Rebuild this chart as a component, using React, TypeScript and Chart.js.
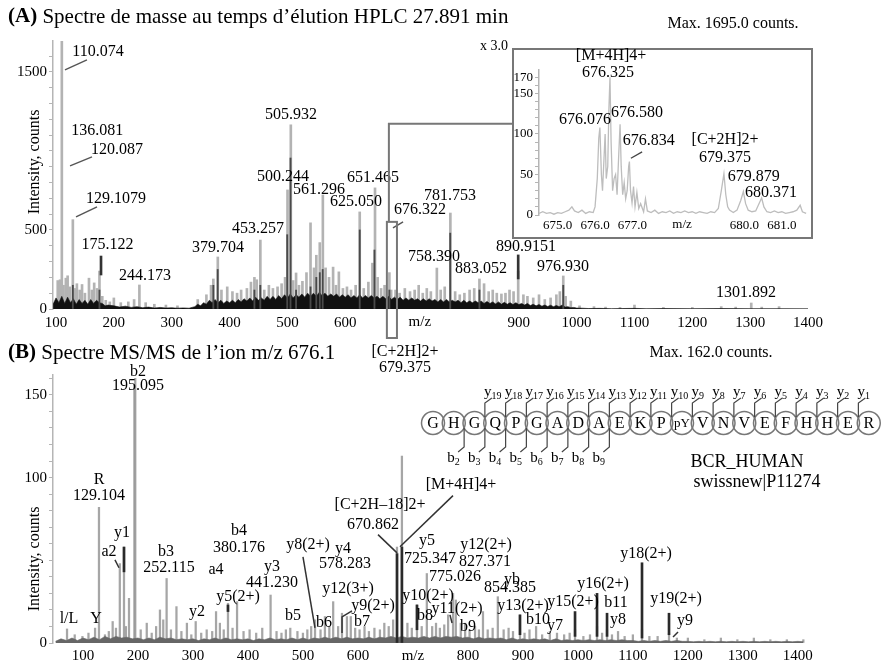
import React, { useEffect, useRef } from 'react';
import { Chart, registerables } from 'chart.js';
Chart.register(...registerables);

const FONT = "'Liberation Serif', 'Times New Roman', Times, serif";

// ---------- Panel A : MS spectrum ----------
const A_XTICKS = [100, 200, 300, 400, 500, 600, 700, 800, 900, 1000, 1100, 1200, 1300, 1400];
const A_XHIDE = [700, 800];
const A_YLABELS = [0, 500, 1500];

// light grey peaks [m/z, counts]
const A_PEAKS: number[][] = [
  [103, 180], [107, 185], [110.07, 1695], [113, 150], [117, 195], [120.09, 210], [124, 140], [129.11, 565], [133, 130],
  [136.08, 160], [141, 120], [145, 155], [150, 100], [157, 195], [162, 120], [166, 165], [171, 130], [175.12, 240],
  [180, 80], [186, 55], [193, 45], [200, 70], [212, 40], [225, 45], [235, 60], [244.17, 152], [255, 40], [270, 30],
  [290, 25], [310, 20], [345, 60], [360, 90], [368, 150], [372, 190], [379.7, 329], [386, 120], [396, 140], [405, 110],
  [413, 100], [420, 120], [430, 130], [437, 170], [443, 200], [447, 185], [453.26, 436], [460, 120], [468, 150],
  [475, 130], [483, 140], [490, 160], [496, 200], [500.24, 753], [505.93, 1165], [510, 180], [515, 228], [520, 150],
  [526, 175], [533, 230], [540, 545], [546, 260], [550, 340], [556, 420], [561.3, 721], [566, 260], [572, 200],
  [579, 265], [584, 150], [589, 235], [596, 130], [603, 140], [610, 120], [618, 150], [625.05, 614], [632, 130],
  [640, 170], [647, 290], [651.47, 766], [656, 200], [662, 130], [668, 150], [676.32, 230], [679.38, 120], [687, 120],
  [694, 100], [703, 130], [712, 110], [720, 120], [727, 150], [734, 100], [741, 130], [748, 110], [758.39, 259],
  [765, 120], [772, 140], [781.75, 607], [790, 110], [798, 90], [806, 100], [815, 120], [823, 130], [832, 190],
  [840, 160], [848, 110], [855, 120], [862, 100], [870, 95], [877, 100], [884, 120], [891, 110], [899, 240], [908, 90],
  [915, 80], [925, 70], [935, 90], [945, 60], [955, 70], [965, 90], [971, 110], [976.93, 209], [981, 80], [990, 50],
  [1005, 20], [1030, 15], [1050, 12], [1075, 10], [1100, 25], [1150, 10], [1200, 10], [1250, 15], [1275, 12],
  [1301.89, 38], [1320, 12], [1350, 15],
];
// darker (overlapping) peaks
const A_DARK: number[][] = [
  [129.1, 150], [175.1, 120], [372, 150], [379.5, 250], [443, 120], [453.2, 150], [499.7, 470], [505.4, 955],
  [515, 120], [540, 140], [550, 200], [556, 230], [561, 250], [625.05, 500], [650.5, 373], [676.3, 120],
  [781.5, 480], [832, 120], [976.9, 150],
];
// dense black baseline noise
const A_NOISE: number[][] = [
  [95, 30], [100, 70], [105, 40], [110, 80], [115, 35], [120, 75], [125, 40], [130, 65], [135, 30], [140, 60], [145, 35],
  [150, 55], [155, 30], [160, 60], [165, 35], [170, 55], [175, 40], [180, 35], [185, 20], [190, 25], [200, 20], [210, 12],
  [220, 18], [230, 10], [240, 15], [250, 8], [260, 12], [270, 6], [280, 10], [290, 6], [300, 8], [310, 5], [320, 7],
  [330, 5], [340, 15], [345, 30], [350, 20], [355, 40], [360, 30], [365, 55], [370, 40], [375, 60], [380, 40], [385, 55],
  [390, 35], [395, 50], [400, 40], [405, 55], [410, 40], [415, 60], [420, 45], [425, 65], [430, 50], [435, 70], [440, 50],
  [445, 75], [450, 55], [455, 70], [460, 55], [465, 80], [470, 60], [475, 80], [480, 60], [485, 85], [490, 65], [495, 90],
  [500, 70], [505, 95], [510, 70], [515, 90], [520, 75], [525, 95], [530, 75], [535, 100], [540, 80], [545, 100],
  [550, 80], [555, 105], [560, 85], [565, 100], [570, 80], [575, 95], [580, 80], [585, 95], [590, 75], [595, 90],
  [600, 75], [605, 90], [610, 70], [615, 85], [620, 70], [625, 90], [630, 70], [635, 85], [640, 70], [645, 85], [650, 70],
  [655, 80], [660, 65], [665, 80], [670, 65], [675, 80], [680, 60], [685, 75], [690, 60], [695, 75], [700, 55], [705, 70],
  [710, 55], [715, 70], [720, 55], [725, 65], [730, 50], [735, 65], [740, 50], [745, 65], [750, 50], [755, 60], [760, 45],
  [765, 60], [770, 45], [775, 60], [780, 45], [785, 55], [790, 45], [795, 55], [800, 40], [805, 55], [810, 40], [815, 50],
  [820, 40], [825, 50], [830, 40], [835, 50], [840, 35], [845, 48], [850, 35], [855, 45], [860, 32], [865, 45], [870, 30],
  [875, 42], [880, 30], [885, 40], [890, 28], [895, 40], [900, 28], [905, 35], [910, 25], [915, 35], [920, 22], [925, 30],
  [930, 20], [935, 28], [940, 18], [945, 25], [950, 16], [955, 24], [960, 15], [965, 22], [970, 15], [975, 25], [980, 12],
  [985, 15], [990, 8], [995, 10], [1000, 6], [1010, 5], [1020, 3], [1040, 4], [1060, 2], [1080, 3], [1100, 4], [1120, 2],
  [1150, 3], [1200, 2], [1250, 3], [1300, 2], [1350, 2], [1400, 1],
];
// black marker segments [m/z, from, to]
const A_MARKED: number[][] = [[177.8, 215, 335], [899, 190, 342]];
// peak labels [text, m/z, counts]
const A_LABELS: [string, number, number][] = [
  ['110.074', 172.6, 1627], ['136.081', 171.1, 1127], ['120.087', 205.4, 1006], ['129.1079', 203.7, 696],
  ['175.122', 189.2, 405], ['244.173', 253.8, 209], ['379.704', 380, 386], ['453.257', 449.2, 506],
  ['500.244', 492.4, 835], ['505.932', 506.2, 1228], ['561.296', 554.6, 753], ['651.465', 648, 829],
  ['625.050', 618.6, 677], ['676.322', 729.2, 627], ['781.753', 781.1, 715], ['758.390', 753.4, 329],
  ['883.052', 834.6, 253], ['890.9151', 912.4, 392], ['976.930', 976.4, 266], ['1301.892', 1292.7, 101],
  ['[C+2H]2+', 703.3, -272], ['679.375', 703.3, -373],
];
const A_LEADERS: number[][][] = [
  [[115.5, 1513], [153.5, 1576]],
  [[124.2, 905], [162.2, 962]],
  [[134.6, 582], [170.9, 646]],
  [[682.5, 513], [700, 551]],
];
const A_ZOOM_RANGE = [672, 689.4];
const A_ZOOM_TOP = 551;
const A_CONNECT = 1171;

// ---------- Inset ----------
const I_XTICKS = [675, 676, 677, 680, 681];
const I_YLABELS = [0, 50, 100, 150, 170];
const I_PROFILE: number[][] = [
  [674.5, 2], [674.6, 4], [674.7, 2], [674.8, 3], [674.9, 1], [675.0, 3], [675.1, 2], [675.2, 4], [675.3, 6], [675.38, 10],
  [675.45, 5], [675.55, 3], [675.65, 6], [675.75, 2], [675.85, 4], [675.95, 3], [676.0, 10], [676.06, 45], [676.1, 95],
  [676.13, 108], [676.17, 50], [676.2, 30], [676.24, 70], [676.27, 100], [676.3, 45], [676.34, 60], [676.37, 130],
  [676.4, 170], [676.43, 90], [676.47, 30], [676.51, 45], [676.55, 50], [676.59, 25], [676.63, 70], [676.67, 112],
  [676.7, 60], [676.74, 25], [676.78, 40], [676.82, 20], [676.86, 30], [676.9, 60], [676.92, 66], [676.95, 30],
  [676.99, 15], [677.03, 35], [677.07, 10], [677.12, 28], [677.17, 8], [677.22, 14], [677.3, 4], [677.35, 20], [677.4, 5],
  [677.5, 3], [677.6, 6], [677.7, 2], [677.8, 4], [677.9, 3], [678.0, 5], [678.1, 2], [678.2, 4], [678.3, 3], [678.4, 5],
  [678.5, 3], [678.6, 4], [678.7, 2], [678.8, 4], [678.9, 3], [679.0, 2], [679.1, 4], [679.2, 3], [679.3, 8], [679.38, 30],
  [679.45, 51], [679.5, 25], [679.55, 10], [679.6, 6], [679.7, 3], [679.8, 6], [679.9, 18], [679.97, 29], [680.03, 14],
  [680.1, 6], [680.2, 4], [680.3, 5], [680.4, 15], [680.46, 21], [680.52, 10], [680.6, 4], [680.7, 3], [680.8, 5],
  [680.9, 3], [681.0, 4], [681.1, 2], [681.2, 3], [681.3, 4], [681.4, 6], [681.49, 12], [681.55, 4], [681.65, 2],
];
const I_LABELS: [string, number, number][] = [
  ['[M+4H]4+', 676.43, 197], ['676.325', 676.35, 176], ['676.076', 675.73, 117], ['676.580', 677.12, 126],
  ['676.834', 677.44, 91], ['[C+2H]2+', 679.48, 93], ['679.375', 679.48, 70], ['679.879', 680.25, 47],
  ['680.371', 680.71, 27],
];
const I_LEADERS: number[][][] = [[[676.96, 70], [677.26, 78]]];

// ---------- Panel B : MS/MS spectrum ----------
const B_XTICKS = [100, 200, 300, 400, 500, 600, 700, 800, 900, 1000, 1100, 1200, 1300, 1400];
const B_YLABELS = [0, 100, 150];
const B_PEAKS: number[][] = [
  [71, 8.5], [85, 5], [99, 4], [110, 6], [122, 9], [129.1, 82], [140, 5], [147, 7], [154, 13], [160, 9], [167, 48],
  [174.6, 58], [178, 10], [183.7, 27], [193.5, 156], [195.1, 160], [205, 8], [216, 12], [225, 6], [233, 10], [240, 20],
  [246, 14], [252.1, 39], [260, 8], [270, 22], [279, 7], [289, 12], [297, 5], [305, 13], [315, 6], [325, 8], [335, 7],
  [342, 19], [349, 12], [356, 8], [363.7, 24], [372, 9], [380.2, 25], [392, 7], [403, 8], [415, 6], [426, 9],
  [441.2, 29], [452, 7], [461, 6], [469, 8], [477, 9], [490, 7], [500, 6], [508, 8], [515, 10], [522, 14], [532, 8],
  [540, 16], [548, 10], [555, 25], [564, 10], [571, 18], [580, 16], [587, 16], [595, 9], [603, 8], [612, 10], [620, 7],
  [630, 9], [640, 8], [648, 12], [656, 10], [664, 14], [671, 58], [680, 113], [690, 12], [698, 9], [707.4, 23],
  [716, 10], [725.3, 42], [735, 10], [742, 12], [749, 9], [757, 11], [764, 17], [773, 30], [778, 26], [787, 12],
  [795, 12], [803, 8], [813, 10], [820, 8], [827.4, 19], [836, 8], [845, 9], [854.4, 28], [865, 8], [874, 9], [882, 7],
  [894.7, 17], [903, 6], [912, 8], [924, 10], [935, 5], [949, 7], [962, 6], [975, 5], [985, 6], [994.8, 8], [1010, 4],
  [1022, 5], [1034.8, 10], [1044, 6], [1053, 8], [1062, 5], [1073, 7], [1085, 4], [1100, 5], [1116.6, 8], [1130, 4],
  [1145, 4], [1165.7, 6], [1180, 3], [1200, 3], [1230, 2], [1260, 3], [1290, 2], [1320, 3], [1350, 2], [1380, 2], [1410, 2],
];
const B_NOISE_START = 50;
const B_NOISE_STEP = 10;
const B_NOISE: number[] = [
  1, 2.5, 1.5, 3, 1.5, 3, 2, 3.5, 2, 4, 2.5, 4, 3, 3.5, 2.5, 3, 2, 3, 2, 3.5, 2.5, 3, 2, 2.5, 2, 2.5, 1.5, 2.5, 2, 3,
  2, 3, 2, 2.5, 2, 2.5, 1.5, 2.5, 2, 3, 2, 2.5, 2, 3, 2, 3, 2, 3, 2.5, 3.5, 2.5, 3.5, 2.5, 3.5, 2.5, 3, 2.5, 3.5, 2.5,
  3.5, 3, 4, 3, 4, 3, 3.5, 3, 4, 3, 4, 3, 4, 3.5, 4, 3, 3.5, 2.5, 3.5, 2.5, 3, 2.5, 3, 2, 3, 2, 2.5, 2, 2.5, 2, 2.5, 1.5,
  2.5, 1.5, 2, 1.5, 2, 1.5, 2, 1.5, 2, 1.5, 2, 1.5, 2, 1.5, 1.5, 1, 1.5, 1, 1.5, 1, 1.5, 1, 1.5, 1, 1, 0.8, 1, 0.8, 1,
  0.8, 1, 0.8, 1, 0.8, 1, 0.8, 1, 0.8, 1, 0.8, 1, 0.8, 1, 0.8, 1, 0.8,
];
const B_MARKED: number[][] = [
  [174.6, 43, 58], [363.7, 19, 23], [671.1, 0, 54], [680, 0, 58], [707.4, 8, 23], [894.7, 5, 17], [994.8, 4, 19],
  [1034.8, 4, 30], [1053, 4, 18], [1116.6, 3, 48.5], [1165.7, 5, 18],
];
const B_LABELS: [string, number, number][] = [
  ['b2', 200.1, 164.2], ['195.095', 200.1, 155.2], ['R', 129.1, 98.8], ['129.104', 129.1, 89.1], ['y1', 171, 66.7],
  ['a2', 147.3, 55.2], ['b3', 251, 55.2], ['252.115', 256.4, 45.5], ['b4', 383.7, 67.9], ['380.176', 383.7, 57.6],
  ['a4', 341.9, 44.2], ['y3', 443.8, 46.1], ['441.230', 443.8, 36.4], ['y5(2+)', 381.9, 27.9], ['y2', 307.4, 18.8],
  ['l/L', 74.6, 14.5], ['Y', 123.7, 14.5], ['b5', 481.9, 16.4], ['y8(2+)', 509.2, 59.4], ['y4', 572.9, 57],
  ['578.283', 576.5, 47.9], ['y12(3+)', 582, 32.7], ['y9(2+)', 627.4, 22.4], ['b6', 538.3, 12.1], ['b7', 607.4, 12.7],
  ['[C+2H\u201318]2+', 640.2, 83.6], ['670.862', 627.4, 71.5], ['y10(2+)', 727.4, 28.5], ['y5', 725.6, 61.8],
  ['725.347', 731.1, 50.9], ['[M+4H]4+', 787.5, 95.8], ['y12(2+)', 832.9, 59.4], ['827.371', 831.1, 49.1],
  ['775.026', 776.5, 40], ['yb', 880.2, 38.2], ['854.385', 876.6, 33.3], ['y11(2+)', 780.2, 20.6], ['b8', 722, 16.4],
  ['b9', 800.2, 9.7], ['y13(2+)', 900.2, 22.4], ['b10', 927.5, 13.9], ['y7', 958.4, 10.3], ['y15(2+)', 991.1, 24.8],
  ['y16(2+)', 1045.7, 35.8], ['b11', 1069.3, 24.2], ['y8', 1072.9, 13.9], ['y18(2+)', 1123.9, 53.9],
  ['y19(2+)', 1178.4, 26.7], ['y9', 1194.8, 13.3],
];
const B_LEADERS: number[][][] = [
  [[158.2, 50.3], [165.5, 45.5]],
  [[500.1, 52.1], [521.9, 9.1]],
  [[571.1, 6.1], [571.1, 15.8], [589.2, 19.4]],
  [[636.5, 65.5], [671.1, 54.5]],
  [[676.5, 58.2], [772.9, 89.1]],
  [[767.4, 17], [771.1, 12.1]],
  [[1173, 3.6], [1182.1, 6.7]],
];
const SEQUENCE = ['G', 'H', 'G', 'Q', 'P', 'G', 'A', 'D', 'A', 'E', 'K', 'P', 'pY', 'V', 'N', 'V', 'E', 'F', 'H', 'H', 'E', 'R'];
const Y_IONS = [19, 18, 17, 16, 15, 14, 13, 12, 11, 10, 9, 8, 7, 6, 5, 4, 3, 2, 1];
const B_IONS = [2, 3, 4, 5, 6, 7, 8, 9];

// ---------- helpers ----------
function text(ctx: CanvasRenderingContext2D, s: string, x: number, y: number, size: number, align: CanvasTextAlign = 'center', weight = '') {
  ctx.font = `${weight}${size}px ${FONT}`;
  ctx.textAlign = align;
  ctx.textBaseline = 'middle';
  ctx.fillStyle = '#000';
  ctx.fillText(s, x, y);
}
function vtext(ctx: CanvasRenderingContext2D, s: string, x: number, y: number, size: number) {
  ctx.save();
  ctx.translate(x, y);
  ctx.rotate(-Math.PI / 2);
  text(ctx, s, 0, 0, size);
  ctx.restore();
}
function drawLabels(ctx: CanvasRenderingContext2D, chart: any, labels: [string, number, number][], size: number) {
  const { x, y } = chart.scales;
  labels.forEach(([s, mz, v]) => text(ctx, s, x.getPixelForValue(mz), y.getPixelForValue(v), size));
}
function drawLeaders(ctx: CanvasRenderingContext2D, chart: any, leaders: number[][][], color: string, width: number) {
  const { x, y } = chart.scales;
  ctx.strokeStyle = color;
  ctx.lineWidth = width;
  leaders.forEach((pts) => {
    ctx.beginPath();
    pts.forEach(([mz, v], i) => {
      const px = x.getPixelForValue(mz);
      const py = y.getPixelForValue(v);
      if (i === 0) ctx.moveTo(px, py);
      else ctx.lineTo(px, py);
    });
    ctx.stroke();
  });
}
const sticks = (pairs: number[][], color: string, thick: number) => ({
  type: 'bar', data: pairs.map(([x, y]) => ({ x, y })), backgroundColor: color, borderWidth: 0, barThickness: thick, grouped: false,
});
const floats = (triples: number[][], color: string, thick: number) => ({
  type: 'bar', data: triples.map(([x, a, b]) => ({ x, y: [a, b] })), backgroundColor: color, borderWidth: 0, barThickness: thick, grouped: false,
});
const area = (pairs: number[][], color: string) => ({
  type: 'line', data: pairs.map(([x, y]) => ({ x, y })), borderColor: color, backgroundColor: color, borderWidth: 0.6,
  pointRadius: 0, fill: 'origin', tension: 0,
});
const tickFont = (size: number) => ({ family: FONT, size });
const yAxis = (max: number, step: number, labels: number[], width: number, fontSize: number) => ({
  type: 'linear', min: 0, max,
  afterBuildTicks: (s: any) => {
    const t = [];
    for (let v = 0; v <= max; v += step) t.push({ value: v });
    s.ticks = t;
  },
  afterFit: (s: any) => { s.width = width; },
  grid: { drawOnChartArea: false, drawTicks: true, tickLength: 4, color: '#b5b5b5', lineWidth: 1 },
  border: { display: true, color: '#b5b5b5', width: 1.5 },
  ticks: { padding: 2, autoSkip: false, color: '#000', font: tickFont(fontSize), callback: (v: number) => (labels.includes(v) ? String(v) : '') },
});

// ---------- configs ----------
function configA(): any {
  const plugin = {
    id: 'panelA',
    afterDraw(chart: any) {
      const { ctx, chartArea } = chart;
      const { x, y } = chart.scales;
      ctx.save();
      text(ctx, '(A)', 8, 17, 21, 'left', 'bold ');
      const w = ctx.measureText('(A)').width;
      text(ctx, ' Spectre de masse au temps d\u2019\u00e9lution HPLC 27.891 min', 8 + w, 17, 21, 'left');
      text(ctx, 'Max. 1695.0 counts.', 733, 24, 16);
      vtext(ctx, 'Intensity, counts', 35, 162, 16);
      text(ctx, 'm/z', x.getPixelForValue(729), chartArea.bottom + 13, 15);
      drawLabels(ctx, chart, A_LABELS, 16);
      drawLeaders(ctx, chart, A_LEADERS, '#555', 1.4);
      // zoom box and connector to the inset
      const bx0 = x.getPixelForValue(A_ZOOM_RANGE[0]);
      const bx1 = x.getPixelForValue(A_ZOOM_RANGE[1]);
      const by = y.getPixelForValue(A_ZOOM_TOP);
      ctx.strokeStyle = '#777';
      ctx.lineWidth = 2;
      ctx.strokeRect(bx0, by, bx1 - bx0, chartArea.bottom + 29 - by);
      const cy = y.getPixelForValue(A_CONNECT);
      ctx.beginPath();
      ctx.moveTo(bx0 + 2, by);
      ctx.lineTo(bx0 + 2, cy);
      ctx.lineTo(513, cy);
      ctx.stroke();
      ctx.restore();
    },
  };
  return {
    type: 'bar',
    data: {
      datasets: [
        floats(A_MARKED, '#333', 2),
        sticks(A_DARK, '#4a4a4a', 1.2),
        area(A_NOISE, '#111'),
        sticks(A_PEAKS, '#b3b3b3', 2),
      ],
    },
    options: {
      responsive: false, animation: false, events: [],
      layout: { padding: { left: 0, top: 41, right: 76, bottom: 0 } },
      plugins: { legend: { display: false }, tooltip: { enabled: false } },
      scales: {
        x: {
          type: 'linear', min: 94.8, max: 1400, offset: false,
          afterBuildTicks: (s: any) => { s.ticks = A_XTICKS.map((v) => ({ value: v })); },
          afterFit: (s: any) => { s.height = 71; },
          grid: { display: false, drawTicks: false }, border: { display: false },
          ticks: { padding: 5, autoSkip: false, maxRotation: 0, color: '#000', font: tickFont(15), callback: (v: number) => (A_XHIDE.includes(v) ? '' : String(v)) },
        },
        y: yAxis(1695, 100, A_YLABELS, 53, 15),
      },
    },
    plugins: [plugin],
  };
}

function configInset(): any {
  const plugin = {
    id: 'inset',
    beforeDraw(chart: any) {
      const { ctx } = chart;
      ctx.save();
      ctx.fillStyle = '#fff';
      ctx.fillRect(43, 19, 299, 189);
      ctx.restore();
    },
    afterDraw(chart: any) {
      const { ctx, chartArea } = chart;
      const { x } = chart.scales;
      ctx.save();
      ctx.strokeStyle = '#777';
      ctx.lineWidth = 2;
      ctx.strokeRect(43, 19, 299, 189);
      text(ctx, 'x 3.0', 24, 16, 14);
      text(ctx, 'm/z', x.getPixelForValue(678.33), chartArea.bottom + 10, 13);
      drawLabels(ctx, chart, I_LABELS, 16);
      drawLeaders(ctx, chart, I_LEADERS, '#444', 1.3);
      ctx.restore();
    },
  };
  return {
    type: 'line',
    data: {
      datasets: [{
        data: I_PROFILE.map(([x, y]) => ({ x, y })), borderColor: '#bdbdbd', borderWidth: 1.3, pointRadius: 0, tension: 0, fill: false,
      }],
    },
    options: {
      responsive: false, animation: false, events: [],
      layout: { padding: { left: 0, top: 40, right: 12, bottom: 0 } },
      plugins: { legend: { display: false }, tooltip: { enabled: false } },
      scales: {
        x: {
          type: 'linear', min: 674.5, max: 681.7, offset: false,
          afterBuildTicks: (s: any) => { s.ticks = I_XTICKS.map((v) => ({ value: v })); },
          afterFit: (s: any) => { s.height = 30; },
          grid: { display: false, drawTicks: false }, border: { display: false },
          ticks: { padding: 3, autoSkip: false, maxRotation: 0, color: '#000', font: tickFont(13), callback: (v: number) => v.toFixed(1) },
        },
        y: yAxis(179, 10, I_YLABELS, 69, 13),
      },
    },
    plugins: [plugin],
  };
}

function configB(): any {
  const noise = B_NOISE.map((v, i) => [B_NOISE_START + i * B_NOISE_STEP, v]);
  const plugin = {
    id: 'panelB',
    afterDraw(chart: any) {
      const { ctx } = chart;
      ctx.save();
      text(ctx, '(B)', 8, 23, 21, 'left', 'bold ');
      const w = ctx.measureText('(B)').width;
      text(ctx, ' Spectre MS/MS de l\u2019ion m/z 676.1', 8 + w, 23, 21, 'left');
      text(ctx, 'Max. 162.0 counts.', 711, 23, 16);
      vtext(ctx, 'Intensity, counts', 35, 229, 16);
      drawLabels(ctx, chart, B_LABELS, 16);
      drawLeaders(ctx, chart, B_LEADERS, '#333', 1.5);
      // peptide sequence diagram
      const x0 = 433, dx = 20.75, cy = 93, r = 11.5;
      ctx.strokeStyle = '#777';
      ctx.lineWidth = 1.5;
      SEQUENCE.forEach((aa, i) => {
        ctx.beginPath();
        ctx.arc(x0 + i * dx, cy, r, 0, Math.PI * 2);
        ctx.stroke();
      });
      SEQUENCE.forEach((aa, i) => text(ctx, aa, x0 + i * dx, cy + 1, aa.length > 1 ? 13 : 16));
      ctx.strokeStyle = '#444';
      ctx.lineWidth = 1.2;
      const ion = (letter: string, n: number, lx: number, ly: number) => {
        text(ctx, letter, lx, ly, 15, 'left');
        const lw = ctx.measureText(letter).width;
        text(ctx, String(n), lx + lw, ly + 4, 10, 'left');
      };
      Y_IONS.forEach((k) => {
        const gx = x0 + (SEQUENCE.length - k - 0.5) * dx;
        ctx.beginPath();
        ctx.moveTo(gx, cy - 6);
        ctx.lineTo(gx, cy - 20);
        ctx.lineTo(gx + 7, cy - 25);
        ctx.stroke();
        ion('y', k, gx - 1, cy - 31);
      });
      B_IONS.forEach((k) => {
        const gx = x0 + (k - 0.5) * dx;
        ctx.beginPath();
        ctx.moveTo(gx, cy + 5);
        ctx.lineTo(gx, cy + 24);
        ctx.lineTo(gx - 6, cy + 29);
        ctx.stroke();
        ion('b', k, gx - 17, cy + 35);
      });
      text(ctx, 'BCR_HUMAN', 747, 132, 18);
      text(ctx, 'swissnew|P11274', 757, 152, 18);
      ctx.restore();
    },
  };
  return {
    type: 'bar',
    data: {
      datasets: [
        floats(B_MARKED, '#2a2a2a', 2),
        area(noise, '#666'),
        sticks(B_PEAKS, 'rgba(150,150,150,0.85)', 1.6),
      ],
    },
    options: {
      responsive: false, animation: false, events: [],
      layout: { padding: { left: 0, top: 45, right: 79, bottom: 0 } },
      plugins: { legend: { display: false }, tooltip: { enabled: false } },
      scales: {
        x: {
          type: 'linear', min: 45.5, max: 1413, offset: false,
          afterBuildTicks: (s: any) => { s.ticks = B_XTICKS.map((v) => ({ value: v })); },
          afterFit: (s: any) => { s.height = 23; },
          grid: { display: false, drawTicks: false }, border: { display: false },
          ticks: { padding: 4, autoSkip: false, maxRotation: 0, color: '#000', font: tickFont(15), callback: (v: number) => (v === 700 ? 'm/z' : String(v)) },
        },
        y: yAxis(162, 10, B_YLABELS, 53, 15),
      },
    },
    plugins: [plugin],
  };
}

export default function App() {
  const aRef = useRef<HTMLCanvasElement>(null);
  const iRef = useRef<HTMLCanvasElement>(null);
  const bRef = useRef<HTMLCanvasElement>(null);
  useEffect(() => {
    const charts = [
      new Chart(aRef.current as HTMLCanvasElement, configA()),
      new Chart(bRef.current as HTMLCanvasElement, configB()),
      new Chart(iRef.current as HTMLCanvasElement, configInset()),
    ];
    return () => charts.forEach((c) => c.destroy());
  }, []);
  return (
    <div style={{ position: 'absolute', left: 0, top: 0, width: 884, height: 666, background: '#fff', overflow: 'hidden' }}>
      <canvas ref={aRef} width={884} height={380} style={{ position: 'absolute', left: 0, top: 0 }} />
      <canvas ref={bRef} width={884} height={336} style={{ position: 'absolute', left: 0, top: 330 }} />
      <canvas ref={iRef} width={350} height={215} style={{ position: 'absolute', left: 470, top: 30 }} />
    </div>
  );
}
